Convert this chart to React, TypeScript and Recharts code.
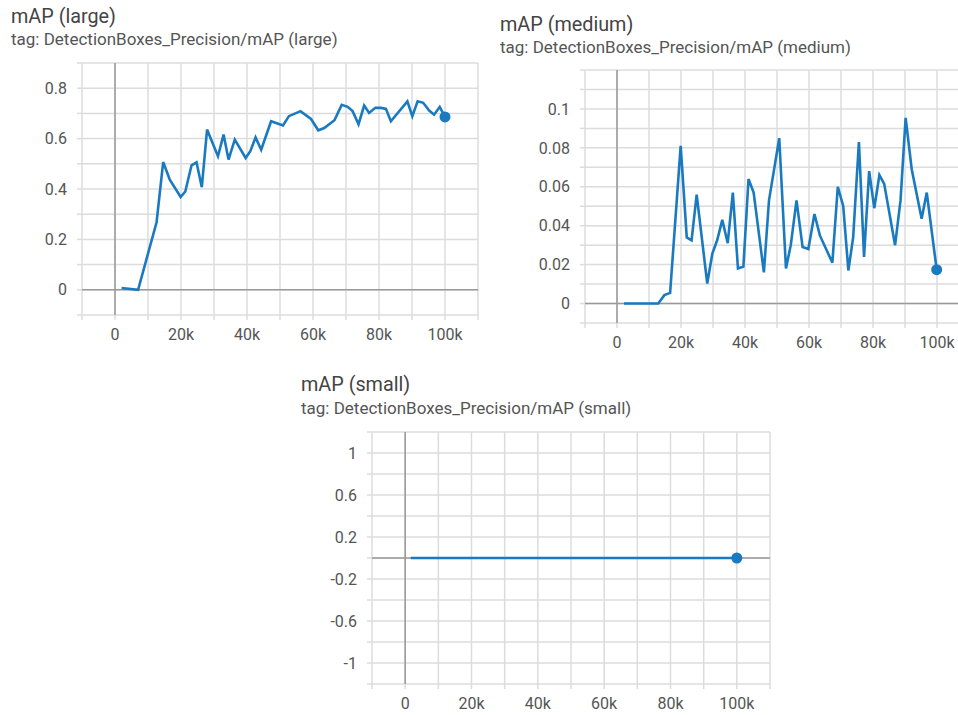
import { LineChart, Line, XAxis, YAxis, CartesianGrid, ReferenceLine } from 'recharts'

const xTicks = [-10000, 0, 10000, 20000, 30000, 40000, 50000, 60000, 70000, 80000, 90000, 100000, 110000]

const largeSteps = [
  2000, 7000, 12600, 14600, 16600, 19900, 21300, 23200, 24700, 26300, 27900, 31200, 32900, 34400, 36300,
  39600, 41000, 42600, 44300, 47300, 50900, 52700, 56200, 59400, 61600, 63400, 66500, 68700, 70500, 72000,
  73800, 75500, 77000, 78900, 80600, 82100, 83600, 88600, 90100, 91700, 93400, 95200, 96700, 98400, 100000,
]
const largeValues = [
  0.007, 0.0, 0.268, 0.507, 0.437, 0.368, 0.39, 0.494, 0.506, 0.407, 0.636, 0.53, 0.616, 0.517, 0.596,
  0.523, 0.55, 0.605, 0.556, 0.669, 0.652, 0.689, 0.709, 0.678, 0.633, 0.642, 0.673, 0.734, 0.726, 0.709,
  0.657, 0.731, 0.702, 0.722, 0.722, 0.718, 0.669, 0.748, 0.689, 0.748, 0.742, 0.711, 0.695, 0.726, 0.686,
]
const largeYTicks = [-0.1, 0, 0.1, 0.2, 0.3, 0.4, 0.5, 0.6, 0.7, 0.8, 0.9]
const largeYLabels = [0, 0.2, 0.4, 0.6, 0.8]

const mediumSteps = [
  2200, 12900, 14800, 16600, 19900, 21800, 23300, 24900, 28200, 29800, 31300, 32900, 34600, 36200, 37800,
  39500, 41100, 42700, 45900, 47500, 50700, 52800, 54300, 56100, 58000, 59800, 61700, 63400, 67300, 69000,
  70700, 72300, 73800, 75600, 77200, 78800, 80400, 82000, 83500, 86900, 88600, 90200, 92100, 95200, 96800,
  99900,
]
const mediumValues = [
  0, 0, 0.0043, 0.0055, 0.081, 0.034, 0.0325, 0.056, 0.0103, 0.0257, 0.0325, 0.043, 0.031, 0.057, 0.018,
  0.019, 0.064, 0.057, 0.016, 0.053, 0.085, 0.018, 0.03, 0.053, 0.029, 0.028, 0.046, 0.035, 0.021, 0.06,
  0.05, 0.017, 0.034, 0.083, 0.024, 0.068, 0.049, 0.066, 0.0615, 0.03, 0.053, 0.0954, 0.069, 0.0436, 0.057,
  0.0174,
]
const mediumYTicks = [-0.01, 0, 0.01, 0.02, 0.03, 0.04, 0.05, 0.06, 0.07, 0.08, 0.09, 0.1, 0.11, 0.12]
const mediumYLabels = [0, 0.02, 0.04, 0.06, 0.08, 0.1]

const smallSteps = [1700, 12900, 24900, 36200, 47500, 59800, 70700, 82000, 92100, 100000]
const smallValues = [0, 0, 0, 0, 0, 0, 0, 0, 0, 0]
const smallYTicks = [-1.2, -1, -0.8, -0.6, -0.4, -0.2, 0, 0.2, 0.4, 0.6, 0.8, 1, 1.2]
const smallYLabels = [-1, -0.6, -0.2, 0.2, 0.6, 1]

const LINE = '#1a7ac0'
const GRID = '#dcdcdc'
const FONT = 'Roboto, sans-serif'

const fmtStep = (v: number) => {
  if (v === 0) return '0'
  if (v > 0 && v <= 100000 && v % 20000 === 0) return `${v / 1000}k`
  return ''
}

type PanelProps = {
  title: string
  tag: string
  titleLeft: number
  titleTop: number
  tagTop: number
  left: number
  top: number
  width: number
  height: number
  yWidth: number
  steps: number[]
  values: number[]
  yTicks: number[]
  yLabels: number[]
  yDomain: [number, number]
}

const Panel = (p: PanelProps) => {
  const data = p.steps.map((s, i) => ({ step: s, value: p.values[i] }))
  const last = data.length - 1
  return (
    <>
      <div
        style={{
          position: 'absolute',
          left: p.titleLeft,
          top: p.titleTop,
          fontFamily: FONT,
          fontSize: 19.8,
          color: '#444',
          whiteSpace: 'nowrap',
        }}
      >
        {p.title}
      </div>
      <div
        style={{
          position: 'absolute',
          left: p.titleLeft,
          top: p.tagTop,
          fontFamily: FONT,
          fontSize: 17,
          color: '#555',
          whiteSpace: 'nowrap',
        }}
      >
        {p.tag}
      </div>
      <div style={{ position: 'absolute', left: p.left, top: p.top }}>
        <LineChart
          width={p.width}
          height={p.height}
          data={data}
          margin={{ top: 5, right: 2, bottom: 0, left: 0 }}
        >
          <CartesianGrid stroke={GRID} strokeWidth={1.5} />
          <XAxis
            dataKey="step"
            type="number"
            domain={[-10000, 110000]}
            ticks={xTicks}
            interval={0}
            tickFormatter={fmtStep}
            axisLine={false}
            tickLine={{ stroke: GRID, strokeWidth: 1.5 }}
            tickSize={5}
            tickMargin={9}
            height={30}
            tick={{ fill: '#555', fontSize: 16, fontFamily: FONT }}
          />
          <YAxis
            type="number"
            domain={p.yDomain}
            ticks={p.yTicks}
            interval={0}
            tickFormatter={(v: number) => (p.yLabels.includes(v) ? String(v) : '')}
            axisLine={false}
            tickLine={{ stroke: GRID, strokeWidth: 1.5 }}
            tickSize={5}
            tickMargin={10}
            width={p.yWidth}
            tick={{ fill: '#555', fontSize: 16, fontFamily: FONT }}
          />
          <ReferenceLine x={0} stroke="#999" strokeWidth={1.5} />
          <ReferenceLine y={0} stroke="#999" strokeWidth={1.5} />
          <Line
            type="linear"
            dataKey="value"
            stroke={LINE}
            strokeWidth={2.6}
            isAnimationActive={false}
            dot={(d: any) =>
              d.index === last ? (
                <circle key="last" cx={d.cx} cy={d.cy} r={5.5} fill={LINE} stroke="none" />
              ) : (
                <g key={`d${d.index}`} />
              )
            }
            activeDot={false}
          />
        </LineChart>
      </div>
    </>
  )
}

export default function App() {
  return (
    <div
      style={{
        position: 'absolute',
        left: 0,
        top: 0,
        width: 958,
        height: 715,
        overflow: 'hidden',
        background: '#fff',
      }}
    >
      <Panel
        title="mAP (large)"
        tag="tag: DetectionBoxes_Precision/mAP (large)"
        titleLeft={11}
        titleTop={5}
        tagTop={29}
        left={20}
        top={58}
        width={460}
        height={287}
        yWidth={62}
        steps={largeSteps}
        values={largeValues}
        yTicks={largeYTicks}
        yLabels={largeYLabels}
        yDomain={[-0.1, 0.9]}
      />
      <Panel
        title="mAP (medium)"
        tag="tag: DetectionBoxes_Precision/mAP (medium)"
        titleLeft={500}
        titleTop={13}
        tagTop={37}
        left={525}
        top={65}
        width={446}
        height={288}
        yWidth={60}
        steps={mediumSteps}
        values={mediumValues}
        yTicks={mediumYTicks}
        yLabels={mediumYLabels}
        yDomain={[-0.01, 0.12]}
      />
      <Panel
        title="mAP (small)"
        tag="tag: DetectionBoxes_Precision/mAP (small)"
        titleLeft={301}
        titleTop={373}
        tagTop={398}
        left={312}
        top={427}
        width={460}
        height={287}
        yWidth={60}
        steps={smallSteps}
        values={smallValues}
        yTicks={smallYTicks}
        yLabels={smallYLabels}
        yDomain={[-1.2, 1.2]}
      />
    </div>
  )
}
